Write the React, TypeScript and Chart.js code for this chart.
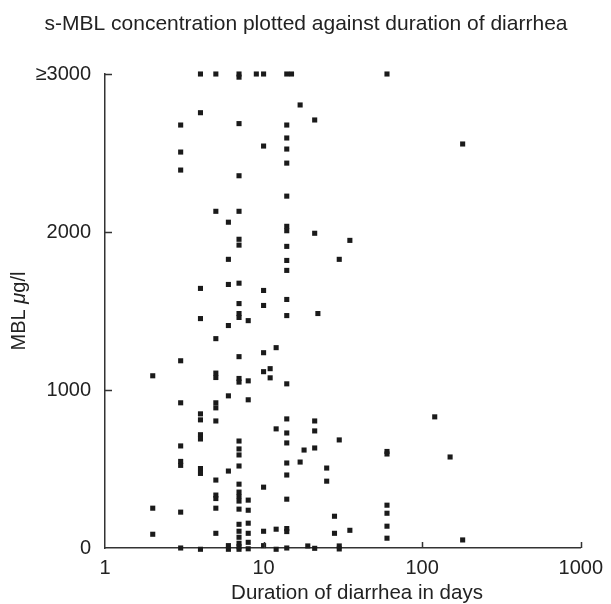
import React, { useEffect, useRef } from "react";
import { Chart, registerables } from "chart.js";

Chart.register(...registerables);

const TITLE = "s-MBL concentration plotted against duration of diarrhea";
const X_TITLE = "Duration of diarrhea in days";
const Y_TITLE_PARTS = ["MBL ", "\u03bc", "g/l"];

const X_TICKS = [1, 10, 100, 1000];
const Y_TICKS = [0, 1000, 2000, 3000];
const Y_TICK_LABELS = ["0", "1000", "2000", "\u22653000"];

// Duration of diarrhea (days) for each column of points
const DURATION_DAYS = [2, 3, 4, 5, 6, 7, 8, 9, 10, 11, 12, 14, 15, 17, 18, 19, 21, 22, 25, 28, 30, 35, 60, 120, 150, 180];

// s-MBL values (µg/l) per duration column
const MBL_DAY2 = [1090, 252, 87];
const MBL_DAY3 = [2677, 2506, 2392, 1185, 919, 646, 548, 523, 227, 0];
const MBL_DAY4 = [3000, 2755, 1643, 1452, 849, 811, 717, 690, 503, 472, -8];
const MBL_DAY5 = [3000, 2131, 1325, 1107, 1079, 919, 887, 804, 430, 335, 313, 252, 93];
const MBL_DAY6 = [2062, 1827, 1668, 1408, 963, 487, 15, -8];
const MBL_DAY7 = [3000, 2980, 2686, 2356, 2131, 1954, 1917, 1676, 1547, 1484, 1459, 1211, 1073, 1050, 677, 627, 589, 519, 404, 354, 326, 297, 246, 150, 106, 68, 30, 8, -8];
const MBL_DAY8 = [1439, 1058, 938, 303, 239, 157, 93, 36, -5];
const MBL_DAY9 = [3000];
const MBL_DAY10 = [3000, 2544, 1630, 1535, 1236, 1116, 385, 106, 15];
const MBL_DAY11 = [1135, 1077];
const MBL_DAY12 = [1268, 754, 119, -8];
const MBL_DAY14 = [3000, 2677, 2595, 2525, 2436, 2227, 2036, 2008, 1909, 1820, 1757, 1573, 1471, 1039, 817, 728, 665, 538, 462, 309, 123, 104, 0];
const MBL_DAY15 = [3000];
const MBL_DAY17 = [2804, 544];
const MBL_DAY18 = [620];
const MBL_DAY19 = [13];
const MBL_DAY21 = [2709, 1992, 804, 741, 633, -2];
const MBL_DAY22 = [1484];
const MBL_DAY25 = [506, 423];
const MBL_DAY28 = [201, 93];
const MBL_DAY30 = [1827, 684, 13, -6];
const MBL_DAY35 = [1947, 112];
const MBL_DAY60 = [3000, 611, 595, 271, 220, 138, 62];
const MBL_DAY120 = [830];
const MBL_DAY150 = [576];
const MBL_DAY180 = [2557, 51];

const MBL_COLUMNS = [
  MBL_DAY2, MBL_DAY3, MBL_DAY4, MBL_DAY5, MBL_DAY6, MBL_DAY7, MBL_DAY8, MBL_DAY9,
  MBL_DAY10, MBL_DAY11, MBL_DAY12, MBL_DAY14, MBL_DAY15, MBL_DAY17, MBL_DAY18,
  MBL_DAY19, MBL_DAY21, MBL_DAY22, MBL_DAY25, MBL_DAY28, MBL_DAY30, MBL_DAY35,
  MBL_DAY60, MBL_DAY120, MBL_DAY150, MBL_DAY180,
];

const FONT = "'Liberation Sans', Arial, Helvetica, sans-serif";
const TEXT_COLOR = "#222222";
const AXIS_COLOR = "#333333";
const POINT_COLOR = "#1a1a1a";

export default function App() {
  const canvasRef = useRef<HTMLCanvasElement | null>(null);

  useEffect(() => {
    const canvas = canvasRef.current;
    if (!canvas) return;

    const points: { x: number; y: number }[] = [];
    DURATION_DAYS.forEach((d, i) => {
      MBL_COLUMNS[i].forEach((v) => points.push({ x: d, y: v }));
    });

    const decorPlugin = {
      id: "decor",
      afterDraw(chart: any) {
        const { ctx, chartArea, scales } = chart;
        const x = scales.x;
        const y = scales.y;
        ctx.save();
        // inward tick marks
        ctx.strokeStyle = AXIS_COLOR;
        ctx.lineWidth = 1.5;
        ctx.beginPath();
        for (const v of X_TICKS.slice(1)) {
          const px = Math.round(x.getPixelForValue(v)) + 0.5;
          ctx.moveTo(px, chartArea.bottom);
          ctx.lineTo(px, chartArea.bottom - 6);
        }
        for (const v of Y_TICKS.slice(1)) {
          const py = Math.round(y.getPixelForValue(v)) + 0.5;
          ctx.moveTo(chartArea.left, py);
          ctx.lineTo(chartArea.left + 7, py);
        }
        ctx.stroke();

        // titles
        ctx.fillStyle = TEXT_COLOR;
        ctx.textAlign = "center";
        ctx.textBaseline = "alphabetic";
        ctx.font = `21px ${FONT}`;
        ctx.fillText(TITLE, 306, 30);
        ctx.font = `20.5px ${FONT}`;
        ctx.fillText(X_TITLE, 357, 599);

        // y title with italic mu
        ctx.translate(25, 311);
        ctx.rotate(-Math.PI / 2);
        ctx.textAlign = "left";
        const fonts = [`20px ${FONT}`, `italic 20px ${FONT}`, `20px ${FONT}`];
        const widths = Y_TITLE_PARTS.map((t, i) => {
          ctx.font = fonts[i];
          return ctx.measureText(t).width;
        });
        let cx = -widths.reduce((a, b) => a + b, 0) / 2;
        Y_TITLE_PARTS.forEach((t, i) => {
          ctx.font = fonts[i];
          ctx.fillText(t, cx, 0);
          cx += widths[i];
        });
        ctx.restore();
      },
    };

    const chart = new Chart(canvas, {
      type: "scatter",
      data: {
        datasets: [
          {
            data: points,
            pointStyle: "rect",
            pointRadius: 3.6,
            pointHoverRadius: 3.6,
            pointBorderWidth: 0,
            backgroundColor: POINT_COLOR,
            borderColor: POINT_COLOR,
            clip: false as any,
          },
        ],
      },
      options: {
        responsive: false,
        animation: false,
        layout: { padding: { top: 74, right: 22, left: 0, bottom: 0 } },
        plugins: {
          legend: { display: false },
          title: { display: false },
          tooltip: { enabled: false },
        },
        scales: {
          x: {
            type: "logarithmic",
            min: 1,
            max: 1000,
            afterBuildTicks: (scale: any) => {
              scale.ticks = X_TICKS.map((v) => ({ value: v }));
            },
            afterFit: (scale: any) => {
              scale.height = 56;
            },
            grid: { display: true, drawOnChartArea: false, drawTicks: false, color: "rgba(0,0,0,0)" },
            border: { display: true, color: AXIS_COLOR, width: 1.5 },
            ticks: {
              color: TEXT_COLOR,
              font: { family: FONT, size: 20 },
              padding: 8,
              maxRotation: 0,
              autoSkip: false,
              callback: (v: any) => String(v),
            },
          },
          y: {
            type: "linear",
            min: 0,
            max: 3000,
            afterBuildTicks: (scale: any) => {
              scale.ticks = Y_TICKS.map((v) => ({ value: v }));
            },
            afterFit: (scale: any) => {
              scale.width = 105;
            },
            grid: { display: true, drawOnChartArea: false, drawTicks: false, color: "rgba(0,0,0,0)" },
            border: { display: true, color: AXIS_COLOR, width: 1.5 },
            ticks: {
              color: TEXT_COLOR,
              font: { family: FONT, size: 20 },
              padding: 14,
              autoSkip: false,
              callback: (v: any) => {
                const idx = Y_TICKS.indexOf(Number(v));
                return idx >= 0 ? Y_TICK_LABELS[idx] : "";
              },
            },
          },
        },
      },
      plugins: [decorPlugin],
    });

    return () => chart.destroy();
  }, []);

  return (
    <div style={{ position: "fixed", left: 0, top: 0, width: 611, height: 604, background: "#fff" }}>
      <canvas ref={canvasRef} width={611} height={604} />
    </div>
  );
}
